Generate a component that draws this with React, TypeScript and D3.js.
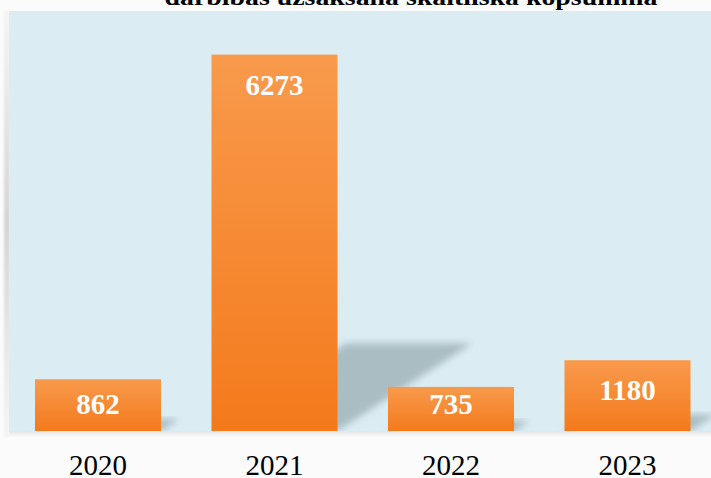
import React from "react";
import * as d3 from "d3";

const years: string[] = ["2020", "2021", "2022", "2023"];
const values: number[] = [862, 6273, 735, 1180];
const titleText = "darbības uzsākšanā skaitliskā kopsummā";

const W = 711;
const H = 478;

export default function App() {
  const plotTop = 11;
  const plotBottom = 431;
  const x = d3
    .scaleBand<string>()
    .domain(years)
    .range([9.75, 715.75])
    .paddingInner(0.286)
    .paddingOuter(0.143);
  const y = d3.scaleLinear().domain([0, 7000]).range([plotBottom, plotTop]);

  return (
    <svg
      width={W}
      height={H}
      style={{ position: "absolute", left: 0, top: 0, display: "block" }}
    >
      <defs>
        <linearGradient id="barGrad" x1="0" y1="0" x2="0" y2="1">
          <stop offset="0%" stopColor="#f89a4c" />
          <stop offset="100%" stopColor="#f47a1c" />
        </linearGradient>
        <linearGradient id="leftStrip" x1="0" y1="0" x2="0" y2="1">
          <stop offset="0%" stopColor="#f6f4f4" />
          <stop offset="50%" stopColor="#d6d4d4" />
          <stop offset="100%" stopColor="#f6f4f4" />
        </linearGradient>
        <linearGradient id="bottomShade" x1="0" y1="0" x2="0" y2="1">
          <stop offset="0%" stopColor="#e4e4e4" />
          <stop offset="100%" stopColor="#fbfbfb" />
        </linearGradient>
        <filter id="shBlur" x="-20%" y="-20%" width="140%" height="140%">
          <feGaussianBlur stdDeviation="3.5" />
        </filter>
        <filter id="stripBlur" x="-100%" y="-10%" width="300%" height="120%">
          <feGaussianBlur stdDeviation="1.2" />
        </filter>
        <clipPath id="plotClip">
          <rect x={9} y={plotTop} width={W - 9} height={plotBottom - plotTop} />
        </clipPath>
      </defs>

      <rect x={0} y={0} width={W} height={H} fill="#fbfbfb" />
      <rect
        x={4}
        y={plotTop}
        width={6}
        height={plotBottom - plotTop + 6}
        fill="url(#leftStrip)"
        filter="url(#stripBlur)"
      />
      <rect x={9} y={plotBottom} width={W - 9} height={6} fill="url(#bottomShade)" />
      <rect x={9} y={plotTop} width={W - 9} height={plotBottom - plotTop} fill="#dbedf3" />

      <g clipPath="url(#plotClip)">
        {years.map((yr, i) => {
          const x0 = x(yr)!;
          const x1 = x0 + x.bandwidth();
          const h = plotBottom - y(values[i]);
          const dx = h * 0.358;
          const dy = h * 0.233;
          const pts = [
            [x0, plotBottom],
            [x1, plotBottom],
            [x1 + dx, plotBottom - dy],
            [x0 + dx, plotBottom - dy],
          ]
            .map((p) => p.join(","))
            .join(" ");
          return (
            <polygon
              key={"s" + yr}
              points={pts}
              fill="#aabdc3"
              filter="url(#shBlur)"
            />
          );
        })}
      </g>

      {years.map((yr, i) => (
        <rect
          key={"b" + yr}
          x={x(yr)!}
          y={y(values[i])}
          width={x.bandwidth()}
          height={plotBottom - y(values[i])}
          fill="url(#barGrad)"
        />
      ))}

      {years.map((yr, i) => (
        <text
          key={"l" + yr}
          x={x(yr)! + x.bandwidth() / 2}
          y={Math.min(y(values[i]) + 40, plotBottom - 17)}
          textAnchor="middle"
          fill="#ffffff"
          fontFamily="'Liberation Serif', serif"
          fontWeight="bold"
          fontSize={29}
        >
          {values[i]}
        </text>
      ))}

      {years.map((yr) => (
        <text
          key={"x" + yr}
          x={x(yr)! + x.bandwidth() / 2}
          y={475}
          textAnchor="middle"
          fill="#000000"
          fontFamily="'Liberation Serif', serif"
          fontSize={29}
        >
          {yr}
        </text>
      ))}

      <text
        x={411}
        y={5}
        textAnchor="middle"
        fill="#000000"
        fontFamily="'Liberation Serif', serif"
        fontWeight="bold"
        fontSize={24}
        textLength={493}
        lengthAdjust="spacingAndGlyphs"
      >
        {titleText}
      </text>
    </svg>
  );
}
